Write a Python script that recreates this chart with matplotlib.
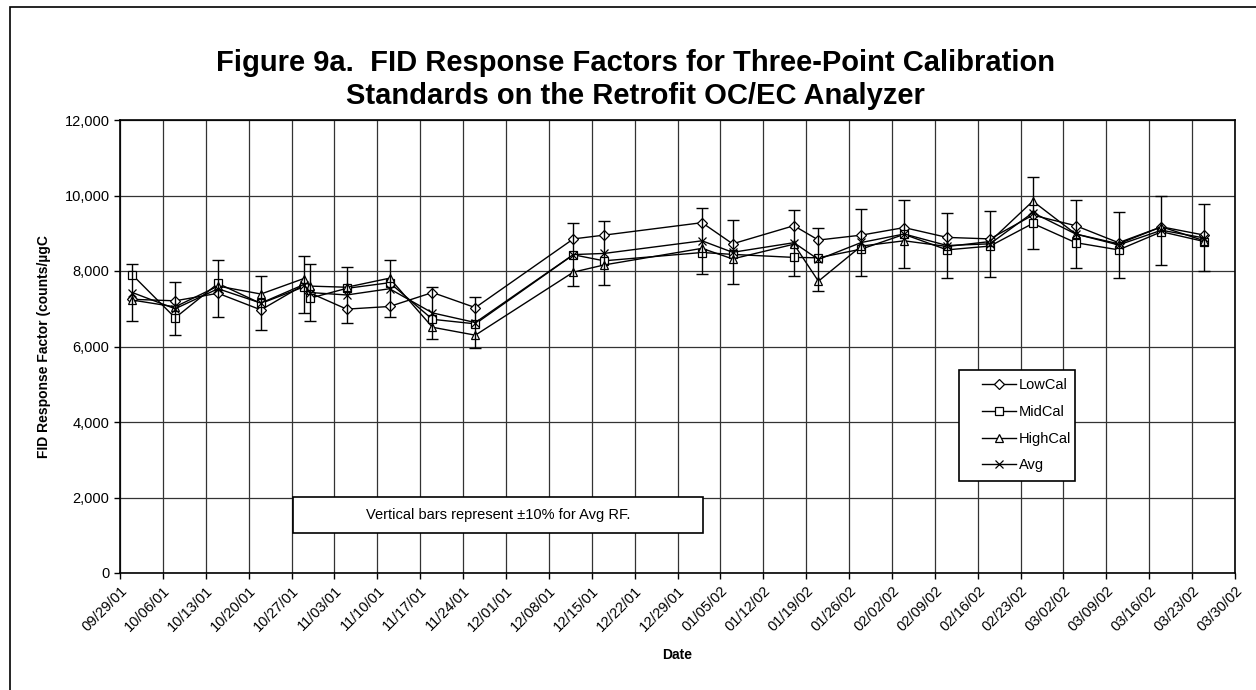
import datetime as dt
import matplotlib
matplotlib.use('Agg')
import matplotlib.pyplot as plt
import matplotlib.dates as mdates
from matplotlib.patches import Rectangle

plt.rcParams['font.family'] = ['Liberation Sans', 'DejaVu Sans']

dates = ['10/01/01', '10/08/01', '10/15/01', '10/22/01', '10/29/01', '10/30/01',
         '11/05/01', '11/12/01', '11/19/01', '11/26/01', '12/12/01', '12/17/01',
         '01/02/02', '01/07/02', '01/17/02', '01/21/02', '01/28/02', '02/04/02',
         '02/11/02', '02/18/02', '02/25/02', '03/04/02', '03/11/02', '03/18/02',
         '03/25/02']
low_cal = [7250, 7210, 7410, 6970, 7630, 7420, 6990, 7060, 7430, 7030, 8850, 8950,
           9280, 8720, 9200, 8820, 8950, 9150, 8890, 8850, 9480, 9200, 8750, 9170, 8950]
mid_cal = [7900, 6760, 7670, 7140, 7580, 7280, 7540, 7690, 6720, 6600, 8430, 8270,
           8490, 8440, 8360, 8350, 8580, 8970, 8560, 8660, 9260, 8750, 8560, 9040, 8780]
high_cal = [7230, 7050, 7600, 7390, 7800, 7600, 7570, 7810, 6510, 6300, 7970, 8160,
            8600, 8320, 8710, 7730, 8660, 8800, 8650, 8780, 9850, 8980, 8720, 9170, 8800]
avg_rf = [7430, 7000, 7530, 7150, 7640, 7430, 7365, 7530, 6890, 6635, 8435, 8465,
          8800, 8495, 8750, 8305, 8755, 8980, 8675, 8720, 9545, 8980, 8690, 9080, 8875]

x = [dt.datetime.strptime(d, '%m/%d/%y') for d in dates]

W, H = 1256, 690
fig = plt.figure(figsize=(W / 100, H / 100), dpi=100)
ax = fig.add_axes([120 / W, 1 - 573 / H, 1115 / W, 453 / H])


def px(xp, yp):
    # pixel position -> axes fraction
    return (xp - 120) / 1115, (573 - yp) / 453


# chart area frame
fig.patches.append(Rectangle((10 / W, -0.1), 1.2, 1.1 - 7 / H, transform=fig.transFigure,
                             fill=False, edgecolor='black', linewidth=1.2))

mk = dict(color='black', linewidth=1, markersize=6, markerfacecolor='white',
          markeredgecolor='black', markeredgewidth=0.9)
ax.plot(x, low_cal, marker='D', label='LowCal', **{**mk, 'markersize': 5.5})
ax.plot(x, mid_cal, marker='s', label='MidCal', **mk)
ax.plot(x, high_cal, marker='^', label='HighCal', **mk)
ax.errorbar(x, avg_rf, yerr=[a * 0.1 for a in avg_rf], fmt='none',
            ecolor='black', elinewidth=1, capsize=4.5, capthick=1)
ax.plot(x, avg_rf, marker='x', label='Avg', **mk)

ax.set_xlim(dt.datetime(2001, 9, 29), dt.datetime(2002, 3, 30))
ax.set_ylim(0, 12000)
ax.xaxis.set_major_locator(mdates.WeekdayLocator(byweekday=mdates.SA))
ax.xaxis.set_major_formatter(mdates.DateFormatter('%m/%d/%y'))
ax.set_yticks(range(0, 12001, 2000))
ax.yaxis.set_major_formatter(matplotlib.ticker.StrMethodFormatter('{x:,.0f}'))
ax.grid(True, color='#333333', linewidth=0.9)
ax.set_axisbelow(True)
for s in ax.spines.values():
    s.set_linewidth(1.2)
ax.tick_params(axis='both', direction='out', length=4, width=1, labelsize=10.5)
plt.setp(ax.get_xticklabels(), rotation=45, ha='right', rotation_mode='anchor')

ax.set_xlabel('Date', fontsize=10, fontweight='bold', labelpad=10)
ax.set_ylabel('FID Response Factor (counts/µgC', fontsize=10, fontweight='bold', labelpad=10)

fig.text(635 / W, 1 - 63 / H, 'Figure 9a.  FID Response Factors for Three-Point Calibration',
         ha='center', va='center', fontsize=21, fontweight='bold')
fig.text(635 / W, 1 - 96 / H, 'Standards on the Retrofit OC/EC Analyzer',
         ha='center', va='center', fontsize=21, fontweight='bold')

# legend with its own frame
lx, ly = px(959, 481)
ax.add_patch(Rectangle((lx, ly), 116 / 1115, 111 / 453, transform=ax.transAxes,
                       facecolor='white', edgecolor='black', linewidth=1.2, zorder=4))
leg = ax.legend(loc='upper left', bbox_to_anchor=px(982, 378), fontsize=10.5,
                frameon=False, handlelength=2.3, handletextpad=0.25, labelspacing=0.88,
                borderpad=0, borderaxespad=0)
leg.set_zorder(5)

# note box under the curves
nx, ny = px(293, 533)
ax.add_patch(Rectangle((nx, ny), 410 / 1115, 36 / 453, transform=ax.transAxes,
                       facecolor='white', edgecolor='black', linewidth=1.2, zorder=3))
ax.text(*px(498, 515), 'Vertical bars represent ±10% for Avg RF.',
        transform=ax.transAxes, ha='center', va='center', fontsize=10.5, zorder=4)

fig.savefig('out.png', dpi=100)
